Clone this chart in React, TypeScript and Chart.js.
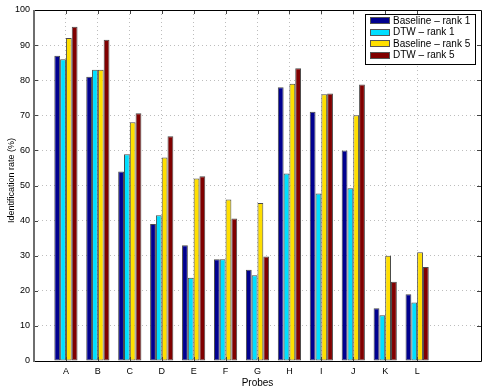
import React, { useEffect, useRef } from "react";
import { Chart, registerables } from "chart.js";

Chart.register(...registerables);

const categories = ["A", "B", "C", "D", "E", "F", "G", "H", "I", "J", "K", "L"];
const baselineRank1 = [87, 81, 54, 39, 33, 29, 26, 78, 71, 60, 15, 19];
const dtwRank1 = [86, 83, 58.9, 41.5, 23.7, 29, 24.4, 53.4, 47.7, 49.2, 13, 16.7];
const baselineRank5 = [92, 83, 68, 58, 52, 46, 45, 79, 76, 70, 30, 31];
const dtwRank5 = [95.2, 91.5, 70.6, 64, 52.6, 40.6, 29.8, 83.4, 76.2, 78.8, 22.6, 26.8];
const seriesLabels = ["Baseline \u2013 rank 1", "DTW \u2013 rank 1", "Baseline \u2013 rank 5", "DTW \u2013 rank 5"];
const seriesColors = ["#00008f", "#00dfff", "#ffdf00", "#800000"];
const yTicks = [0, 10, 20, 30, 40, 50, 60, 70, 80, 90, 100];

const FONT = "'Liberation Sans', Arial, Helvetica, sans-serif";

const framePlugin = {
  id: "matlabFrame",
  afterDatasetsDraw(chart: any) {
    const { ctx, chartArea: a, scales } = chart;
    ctx.save();
    // tick marks (inward)
    ctx.strokeStyle = "#444";
    ctx.lineWidth = 1;
    const tl = 4;
    scales.y.ticks.forEach((t: any) => {
      const y = Math.round(scales.y.getPixelForValue(t.value)) + 0.5;
      ctx.beginPath();
      ctx.moveTo(a.left, y);
      ctx.lineTo(a.left + tl, y);
      ctx.moveTo(a.right, y);
      ctx.lineTo(a.right - tl, y);
      ctx.stroke();
    });
    scales.x.ticks.forEach((t: any) => {
      const x = Math.round(scales.x.getPixelForValue(t.value)) + 0.5;
      ctx.beginPath();
      ctx.moveTo(x, a.top);
      ctx.lineTo(x, a.top + tl);
      ctx.moveTo(x, a.bottom);
      ctx.lineTo(x, a.bottom - tl);
      ctx.stroke();
    });
    // frame
    ctx.strokeStyle = "#000";
    ctx.lineWidth = 1;
    const L = Math.round(a.left), R = Math.round(a.right), T = Math.round(a.top), B = Math.round(a.bottom);
    ctx.beginPath();
    ctx.moveTo(L, T + 0.5);
    ctx.lineTo(R + 0.5, T + 0.5);
    ctx.lineTo(R + 0.5, B + 0.5);
    ctx.lineTo(L, B + 0.5);
    ctx.stroke();
    ctx.strokeStyle = "#6e6e6e";
    ctx.lineWidth = 2;
    ctx.beginPath();
    ctx.moveTo(L, T);
    ctx.lineTo(L, B + 1);
    ctx.stroke();

    // axis titles
    ctx.fillStyle = "#000";
    ctx.font = `9px ${FONT}`;
    ctx.textAlign = "center";
    ctx.textBaseline = "middle";
    ctx.translate(12, (a.top + a.bottom) / 2 - 5);
    ctx.rotate(-Math.PI / 2);
    ctx.fillText("Identification rate (%)", 0, 0);
    ctx.setTransform(1, 0, 0, 1, 0, 0);
    ctx.font = `10px ${FONT}`;
    ctx.textBaseline = "alphabetic";
    ctx.fillText("Probes", (a.left + a.right) / 2, 386);

    // legend
    const w = 110, h = 50;
    const lx = R - 6 - w, ly = T + 4;
    ctx.fillStyle = "#fff";
    ctx.fillRect(lx, ly, w, h);
    ctx.strokeStyle = "#000";
    ctx.lineWidth = 1;
    ctx.strokeRect(lx + 0.5, ly + 0.5, w, h);
    ctx.font = `10px ${FONT}`;
    ctx.textAlign = "left";
    ctx.textBaseline = "middle";
    chart.data.datasets.forEach((ds: any, i: number) => {
      const cy = ly + 6.8 + i * 11.4;
      ctx.fillStyle = ds.backgroundColor;
      ctx.fillRect(lx + 5, Math.round(cy - 3.5), 20, 7);
      ctx.strokeStyle = "#555";
      ctx.strokeRect(lx + 5.5, Math.round(cy - 3.5) + 0.5, 19, 6);
      ctx.fillStyle = "#000";
      ctx.fillText(ds.label, lx + 28, cy + 0.5);
    });
    ctx.restore();
  },
};

export default function App() {
  const ref = useRef<HTMLCanvasElement>(null);
  useEffect(() => {
    document.body.style.margin = "0";
    const canvas = ref.current!;
    const seriesValues = [baselineRank1, dtwRank1, baselineRank5, dtwRank5];
    const chart = new Chart(canvas, {
      type: "bar",
      data: {
        datasets: seriesValues.map((vals, i) => ({
          label: seriesLabels[i],
          data: vals.map((v, j) => ({ x: j + 1, y: v })),
          backgroundColor: seriesColors[i],
          borderColor: "#4a4a4a",
          borderWidth: 1,
          borderSkipped: false,
          categoryPercentage: 0.727,
          barPercentage: 1,
        })),
      },
      options: {
        responsive: false,
        animation: false,
        devicePixelRatio: 1,
        layout: { padding: { top: 10, right: 3, left: 0, bottom: 0 } },
        plugins: { legend: { display: false }, tooltip: { enabled: false } },
        scales: {
          x: {
            type: "linear",
            min: 0,
            max: 14,
            offset: false,
            afterBuildTicks: (scale: any) => {
              scale.ticks = categories.map((_, i) => ({ value: i + 1 }));
            },
            afterFit: (scale: any) => {
              scale.height = 27;
            },
            ticks: {
              autoSkip: false,
              maxRotation: 0,
              padding: 5,
              color: "#000",
              font: { family: FONT, size: 9 },
              callback: (v: any) => categories[Number(v) - 1] ?? "",
            },
            grid: { offset: false, drawTicks: false, color: "#bdbdbd", lineWidth: 1 },
            border: { display: false, dash: [1, 3] },
          },
          y: {
            type: "linear",
            min: 0,
            max: 100,
            afterBuildTicks: (scale: any) => {
              scale.ticks = yTicks.map((v) => ({ value: v }));
            },
            afterFit: (scale: any) => {
              scale.width = 34;
            },
            ticks: {
              padding: 4,
              color: "#000",
              font: { family: FONT, size: 9 },
            },
            grid: { drawTicks: false, color: "#bdbdbd", lineWidth: 1 },
            border: { display: false, dash: [1, 3] },
          },
        },
      },
      plugins: [framePlugin],
    });
    return () => chart.destroy();
  }, []);
  return (
    <div style={{ width: 484, height: 388, background: "#fff" }}>
      <canvas ref={ref} width={484} height={388} />
    </div>
  );
}
